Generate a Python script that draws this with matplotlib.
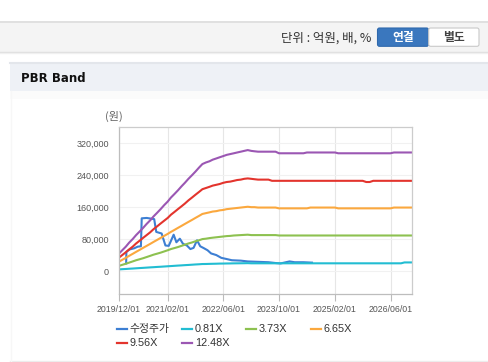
import matplotlib
matplotlib.use('Agg')
import matplotlib.pyplot as plt
from matplotlib.patches import Rectangle, FancyBboxPatch
from matplotlib.lines import Line2D
import pandas as pd

plt.rcParams['font.family'] = ['Liberation Sans', 'Noto Sans CJK KR', 'DejaVu Sans']
KR = ['Noto Sans CJK KR', 'DejaVu Sans']

# monthly band dates, 2019/12 .. 2026/12
band_dates = pd.date_range('2019-12-01', periods=85, freq='MS')

band_0_81 = [4000, 4600, 5100, 5700, 6200, 6800, 7400, 7900, 8500, 9100, 9600, 10200, 10700,
             11300, 11900, 12400, 13000, 13600, 14100, 14700, 15200, 15800, 16400, 16900, 17500,
             17600, 17900, 18100, 18300, 18600, 18700, 18900, 19000, 19200, 19300, 19400, 19500, 19700] \
    + [19300] * 44 + [21500] * 3

band_3_73 = [12700, 15500, 18200, 21000, 24000, 27000, 29500, 32000, 35000, 38000, 41000, 43500, 46000,
             49000, 52000, 55000, 57500, 60000, 63000, 66000, 69000, 71500, 74500, 77000, 80000,
             81000, 82500, 83500, 84500, 85500, 86500, 87500, 88000, 89000, 89500, 90000, 90500, 91000] \
    + [90000] * 8 + [89000] * 39

band_6_65 = [23000, 28000, 33000, 38000, 43000, 48000, 53000, 58000, 63000, 68000, 73000, 78000, 83000,
             88000, 93000, 98000, 103000, 108000, 113000, 118000, 123000, 128000, 133000, 138000, 143000,
             145000, 147000, 149000, 150000, 152000, 153000, 155000, 156000, 157000, 158000, 159000, 160000, 161000,
             160000, 160000, 159000, 159000, 159000, 159000, 159000, 159000] \
    + [157000] * 9 + [159000] * 8 + [157000] * 16 + [159000] * 6

band_9_56 = [33000, 40000, 47000, 54000, 61000, 69000, 76000, 83000, 90000, 97000, 105000, 112000, 119000,
             126000, 133000, 141000, 148000, 155000, 162000, 169000, 177000, 184000, 191000, 198000, 205000,
             208000, 211000, 214000, 216000, 218000, 221000, 223000, 224000, 226000, 228000, 229000, 231000, 232000,
             231000, 230000, 229000, 229000, 229000, 229000] \
    + [226000] * 27 + [223000] * 2 + [226000] * 12

band_12_48 = [43000, 52000, 61000, 71000, 80000, 90000, 99000, 108000, 118000, 127000, 137000, 146000, 155000,
              165000, 174000, 184000, 193000, 202000, 212000, 221000, 231000, 240000, 249000, 259000, 268000,
              272000, 275000, 279000, 282000, 285000, 288000, 291000, 293000, 295000, 297000, 299000, 301000, 303000,
              301000, 300000, 299000, 299000, 299000, 299000, 299000, 299000] \
    + [295000] * 8 + [297000] * 9 + [295000] * 16 + [297000] * 6

price_dates = ['2020-02-04', '2020-02-06', '2020-03-05', '2020-04-15', '2020-05-15', '2020-06-12',
               '2020-06-19', '2020-08-01', '2020-10-06', '2020-10-24', '2020-12-10', '2021-01-12',
               '2021-02-10', '2021-03-25', '2021-04-18', '2021-05-18', '2021-06-15', '2021-07-18',
               '2021-08-18', '2021-09-15', '2021-10-15', '2021-11-12', '2021-12-15', '2022-01-15',
               '2022-02-15', '2022-04-01', '2022-05-15', '2022-07-01', '2022-08-15', '2022-11-01',
               '2023-01-01', '2023-04-01', '2023-07-01', '2023-09-01', '2023-10-15', '2023-11-15',
               '2024-01-01', '2024-02-15', '2024-05-01', '2024-07-15']
price = [19000, 48000, 54000, 57000, 61000, 62000, 132000, 133000, 130000, 98000,
         94000, 64000, 63000, 91000, 72000, 81000, 68000, 64000, 55000, 58000,
         77000, 62000, 57000, 52000, 44000, 40000, 33000, 30000, 27000, 26000,
         24000, 23000, 22000, 20000, 19000, 21000, 24000, 22000, 22000, 21000]

series_names = ['수정주가', '0.81X', '3.73X', '6.65X', '9.56X', '12.48X']
colors = ['#3d7fd3', '#22bdd2', '#8dc150', '#fba83e', '#e3342d', '#9b57b3']

x_ticks = ['2019-12-01', '2021-02-01', '2022-06-01', '2023-10-01', '2025-02-01', '2026-06-01']
y_ticks = [0, 80000, 160000, 240000, 320000]

W, H = 488, 362
fig = plt.figure(figsize=(W / 100, H / 100), dpi=100, facecolor='white')

# page decoration in pixel coordinates
bg = fig.add_axes([0, 0, 1, 1])
bg.set_xlim(0, W)
bg.set_ylim(H, 0)
bg.axis('off')
bg.add_patch(Rectangle((0, 21), W, 31, facecolor='#f4f4f4', edgecolor='none'))
bg.plot([0, W], [21.5, 21.5], color='#dcdcdc', lw=1.2)
bg.plot([0, W], [52, 52], color='#dedede', lw=1.0)
bg.plot([0, W], [53.2, 53.2], color='#f0f0f0', lw=1.0)
bg.text(371, 38.5, '단위 : 억원, 배, %', ha='right', va='center', fontsize=9,
        color='#333333', family=KR)
bg.add_patch(FancyBboxPatch((377.5, 28), 51, 18.3, boxstyle='round,pad=0,rounding_size=2',
                            facecolor='#3a77be', edgecolor='#2f69ad', lw=0.8))
bg.add_patch(FancyBboxPatch((428.7, 28), 50.3, 18.3, boxstyle='round,pad=0,rounding_size=2',
                            facecolor='white', edgecolor='#c9c9c9', lw=0.8))
bg.text(403, 37.6, '연결', ha='center', va='center', fontsize=8.5, color='white',
        fontweight='bold', family=KR)
bg.text(454, 37.6, '별도', ha='center', va='center', fontsize=8.5, color='#444444',
        fontweight='bold', family=KR)

bg.add_patch(Rectangle((10, 62), W - 10, 29, facecolor='#eef1f6', edgecolor='none'))
bg.plot([10, W], [62.5, 62.5], color='#e3e6eb', lw=1.5)
bg.add_patch(Rectangle((10, 91), W - 10, 8, facecolor='#fbfbfb', edgecolor='none'))
bg.text(21, 78.3, 'PBR Band', ha='left', va='center', fontsize=8.5, fontweight='bold',
        color='#111111', family=['DejaVu Sans'])
bg.plot([10, W], [360.5, 360.5], color='#ececec', lw=1.0)
bg.plot([10.5, 10.5], [91, 361], color='#f7f7f7', lw=1.0)

bg.text(113.5, 116.5, '(원)', ha='center', va='center', fontsize=8, color='#666666', family=KR)

# chart
ax = fig.add_axes([118.7 / W, 1 - 294 / H, 293 / W, 167.3 / H])
ax.plot(pd.to_datetime(price_dates), price, color=colors[0], lw=1.5)
for vals, c in zip([band_0_81, band_3_73, band_6_65, band_9_56, band_12_48], colors[1:]):
    ax.plot(band_dates, vals, color=c, lw=1.5)

ax.set_xlim(pd.Timestamp('2019-12-01'), pd.Timestamp('2026-12-03'))
ax.set_ylim(-57600, 361600)
ax.set_xticks(pd.to_datetime(x_ticks))
ax.set_xticklabels([d.replace('-', '/') for d in x_ticks])
ax.set_yticks(y_ticks)
ax.set_yticklabels(['{:,}'.format(v) for v in y_ticks])
ax.tick_params(axis='x', length=5, width=0.8, color='#bbbbbb', pad=3, labelsize=6.3,
               labelcolor='#555555')
ax.tick_params(axis='y', length=0, pad=7, labelsize=6.5, labelcolor='#555555')
ax.grid(axis='x', color='#e6e6e6', lw=0.8)
ax.grid(axis='y', color='#f1f1f1', lw=0.8)
ax.set_axisbelow(True)
for side in ['left', 'bottom']:
    ax.spines[side].set_color('#bdbdbd')
for side in ['top', 'right']:
    ax.spines[side].set_color('#cccccc')
for s in ax.spines.values():
    s.set_linewidth(0.9)

# legend laid out in fixed columns
legend_pos = [(116.7, 329), (181.7, 329), (246, 329), (310.7, 329), (116.7, 342.7), (181.7, 342.7)]
for (lx, ly), name, c in zip(legend_pos, series_names, colors):
    bg.add_line(Line2D([lx, lx + 10], [ly, ly], color=c, lw=1.6))
    fam = KR if name == '수정주가' else ['Liberation Sans']
    bg.text(lx + 13, ly, name, ha='left', va='center', fontsize=7.8, color='#333333', family=fam)

fig.savefig('out.png', dpi=100)
